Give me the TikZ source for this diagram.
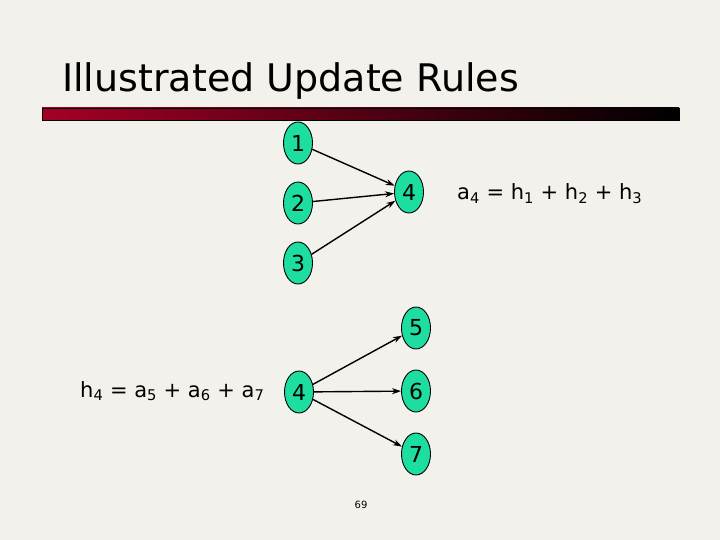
\documentclass[tikz,border=0pt]{standalone}
\usepackage{fontspec}
\setmainfont{DejaVu Sans}
\usepackage{tikz}
\usetikzlibrary{shapes.geometric,arrows.meta}
\definecolor{slidebg}{RGB}{243,241,235}
\definecolor{unitgreen}{RGB}{29,222,160}
\definecolor{barred}{RGB}{165,0,38}
\tikzset{unit/.style={ellipse, draw, line width=0.9pt, fill=unitgreen, minimum width=29pt, minimum height=42pt, inner sep=0pt, font=\fontsize{22}{22}\selectfont}}

\begin{document}
\begin{tikzpicture}[x=1pt,y=-1pt,>={Stealth[length=9pt,width=6pt]}]
    \fill[slidebg] (0,0) rectangle (720,540);
    \node[anchor=base west, inner sep=0pt, font=\fontsize{38}{38}\selectfont] (title) at (62,92) {Illustrated Update Rules};
    \shade[left color=barred, right color=black, draw=black] (42,108) rectangle (679,120);
    % authorities
    \node[unit] (h1) at (298,143) {1};
    \node[unit] (h2) at (298,203) {2};
    \node[unit] (h3) at (298,263) {3};
    \node[unit] (a4) at (409,192) {4};
    \draw[->, line width=1.4pt] (h1) -- (a4);
    \draw[->, line width=1.4pt] (h2) -- (a4);
    \draw[->, line width=1.4pt] (h3) -- (a4);
    \node[anchor=base west, inner sep=0pt, font=\fontsize{21}{21}\selectfont] (arule) at (457,200) {a\textsubscript{4} = h\textsubscript{1} + h\textsubscript{2} + h\textsubscript{3}};
    % hubs
    \node[unit] (h4) at (299,392) {4};
    \node[unit] (a5) at (416,328) {5};
    \node[unit] (a6) at (416,391) {6};
    \node[unit] (a7) at (416,454) {7};
    \draw[->, line width=1.4pt] (h4) -- (a5);
    \draw[->, line width=1.4pt] (h4) -- (a6);
    \draw[->, line width=1.4pt] (h4) -- (a7);
    \node[anchor=base west, inner sep=0pt, font=\fontsize{21}{21}\selectfont] (hrule) at (80,397) {h\textsubscript{4} = a\textsubscript{5} + a\textsubscript{6} + a\textsubscript{7}};
    \node[font=\fontsize{10}{10}\selectfont] (page) at (361,505) {69};
\end{tikzpicture}
\end{document}
